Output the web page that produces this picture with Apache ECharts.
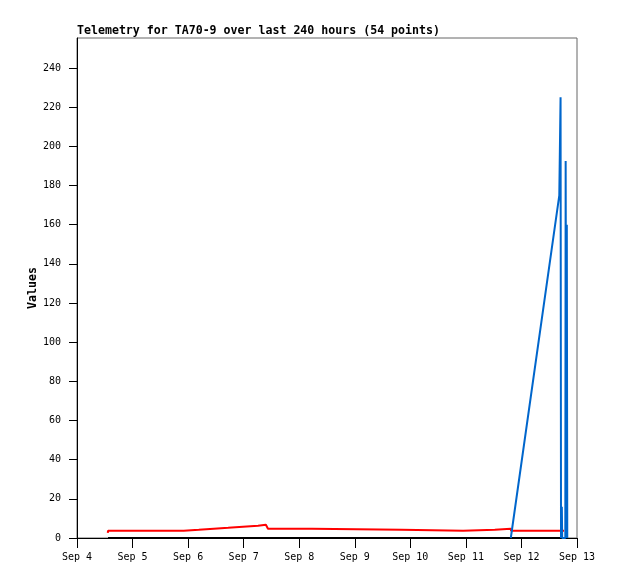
<!DOCTYPE html>
<html>
<head>
<meta charset="utf-8">
<script src="https://cdn.jsdelivr.net/npm/echarts@6/dist/echarts.min.js"></script>
<style>
  html, body { margin: 0; padding: 0; background: #fff; }
  #chart { width: 618px; height: 579px; }
</style>
</head>
<body>
<div id="chart"></div>
<script>
// x values are hours since Sep 4 00:00
const titleText = 'Telemetry for TA70-9 over last 240 hours (54 points)';
const yAxisName = 'Values';
const xTickLabels = ['Sep 4', 'Sep 5', 'Sep 6', 'Sep 7', 'Sep 8', 'Sep 9', 'Sep 10', 'Sep 11', 'Sep 12', 'Sep 13'];
const yTicks = [0, 20, 40, 60, 80, 100, 120, 140, 160, 180, 200, 220, 240];

// black series (flat at zero)
const blackSeries = [[13.4, 0], [211.6, 0]];

// red series (stepwise levels: start and end of each level)
const redSeries = [
  [13.3, 2.6], [13.4, 3.7], [46.1, 3.7], [46.2, 4.2], [52.6, 4.2], [52.7, 4.75],
  [59.1, 4.75], [59.2, 5.25], [65.3, 5.25], [65.4, 5.8], [71.7, 5.8], [71.8, 6.3],
  [78.2, 6.3], [78.3, 6.8], [81.6, 6.8], [82.5, 4.75], [101.5, 4.75], [101.6, 4.2],
  [140.2, 4.2], [140.3, 3.7], [166.8, 3.7], [166.9, 4.2], [180.5, 4.2], [180.6, 4.75],
  [187.4, 4.75], [187.5, 3.7], [210.4, 3.7]
];

// blue series
const blueSeries = [
  [187.4, 0], [208.35, 175], [208.9, 225], [209.1, 0], [209.45, 16], [209.6, 0],
  [210.95, 0], [211.1, 192.5], [211.4, 0], [211.6, 160], [211.8, 0]
];

const monoFont = 'DejaVu Sans Mono';
const chart = echarts.init(document.getElementById('chart'), null, { renderer: 'canvas' });
chart.setOption({
  animation: false,
  backgroundColor: '#ffffff',
  title: {
    text: titleText,
    left: 77,
    top: 25,
    padding: 0,
    textStyle: { fontFamily: monoFont, fontWeight: 'bold', fontSize: 11.6, color: '#000' }
  },
  grid: {
    left: 77, right: 41, top: 38, bottom: 41,
    show: true, borderColor: '#666', borderWidth: 1, backgroundColor: 'transparent'
  },
  xAxis: {
    type: 'value',
    min: 0, max: 216, interval: 24,
    axisLine: { show: true, onZero: false, lineStyle: { color: '#000', width: 1 } },
    axisTick: { show: true, length: 10, lineStyle: { color: '#000' } },
    axisLabel: {
      margin: 14, fontFamily: monoFont, fontSize: 10, color: '#000',
      formatter: v => xTickLabels[Math.round(v / 24)]
    },
    splitLine: { show: false }
  },
  yAxis: {
    type: 'value',
    min: 0, max: 255.3, interval: 20,
    name: yAxisName,
    nameLocation: 'middle',
    nameGap: 38,
    nameMoveOverlap: false,
    nameTextStyle: { fontFamily: monoFont, fontWeight: 'bold', fontSize: 11.6, color: '#000' },
    axisLine: { show: true, lineStyle: { color: '#000', width: 1 } },
    axisTick: { show: true, length: 8, customValues: yTicks, lineStyle: { color: '#000' } },
    axisLabel: { margin: 16, customValues: yTicks, fontFamily: monoFont, fontSize: 10, color: '#000' },
    splitLine: { show: false }
  },
  series: [
    { type: 'line', data: blackSeries, showSymbol: false, symbol: 'none',
      lineStyle: { color: '#000000', width: 2 }, itemStyle: { color: '#000' }, z: 2 },
    { type: 'line', data: redSeries, showSymbol: false, symbol: 'none',
      lineStyle: { color: '#ff0000', width: 2 }, itemStyle: { color: '#ff0000' }, z: 3 },
    { type: 'line', data: blueSeries, showSymbol: false, symbol: 'none',
      lineStyle: { color: '#0066cc', width: 2 }, itemStyle: { color: '#0066cc' }, z: 4 }
  ]
});
</script>
</body>
</html>
